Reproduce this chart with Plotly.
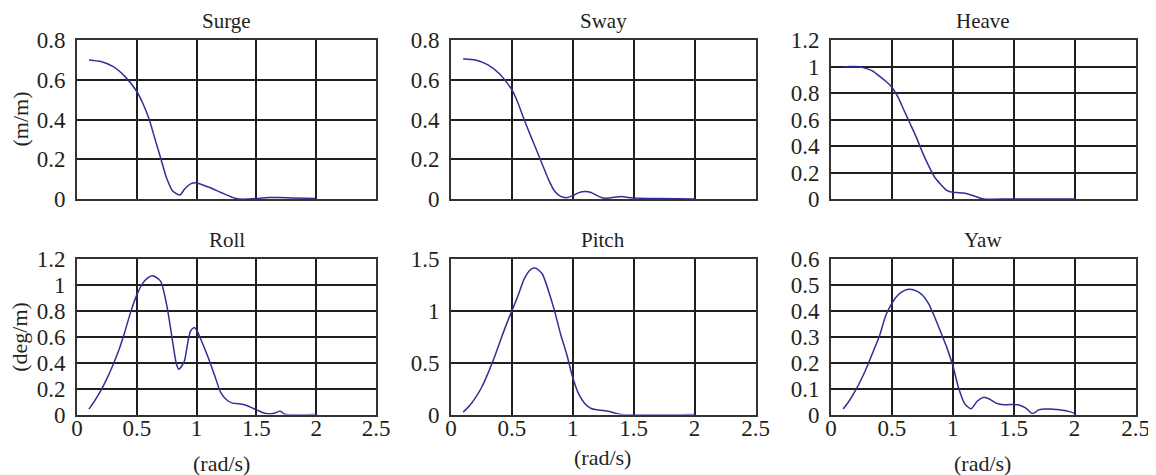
import plotly.graph_objects as go

# ---------------- data ----------------
surge_w = [0.1, 0.2, 0.3, 0.4, 0.5, 0.55, 0.6, 0.65, 0.7, 0.75, 0.8, 0.86, 0.9, 0.95, 1.0,
           1.1, 1.2, 1.3, 1.35, 1.5, 1.6, 1.7, 1.8, 2.0]
surge_a = [0.700, 0.692, 0.667, 0.617, 0.541, 0.482, 0.407, 0.306, 0.205, 0.104, 0.040, 0.020,
           0.050, 0.076, 0.081, 0.060, 0.034, 0.008, 0.0, 0.002, 0.008, 0.007, 0.005, 0.003]

sway_w = [0.1, 0.2, 0.3, 0.4, 0.5, 0.55, 0.6, 0.65, 0.7, 0.75, 0.8, 0.85, 0.9, 0.95, 1.0,
          1.05, 1.1, 1.15, 1.2, 1.25, 1.3, 1.4, 1.45, 1.5, 1.7, 2.0]
sway_a = [0.706, 0.699, 0.676, 0.629, 0.550, 0.483, 0.400, 0.324, 0.249, 0.174, 0.099, 0.040,
          0.013, 0.007, 0.017, 0.032, 0.038, 0.033, 0.017, 0.005, 0.005, 0.013, 0.008, 0.005,
          0.002, 0.0]

heave_w = [0.1, 0.15, 0.2, 0.25, 0.3, 0.35, 0.4, 0.45, 0.5, 0.55, 0.6, 0.65, 0.7, 0.75, 0.8,
           0.85, 0.9, 0.95, 1.0, 1.05, 1.1, 1.15, 1.2, 1.25, 1.5, 2.0]
heave_a = [0.995, 1.0, 1.0, 0.997, 0.982, 0.962, 0.925, 0.889, 0.844, 0.769, 0.668, 0.568,
           0.467, 0.354, 0.254, 0.166, 0.111, 0.065, 0.050, 0.048, 0.043, 0.030, 0.015, 0.0,
           0.0, 0.0]

roll_w = [0.1, 0.15, 0.2, 0.25, 0.3, 0.35, 0.4, 0.45, 0.5, 0.55, 0.6, 0.63, 0.65, 0.7, 0.75,
          0.8, 0.83, 0.85, 0.88, 0.9, 0.93, 0.95, 0.98, 1.0, 1.05, 1.1, 1.15, 1.2, 1.25, 1.3,
          1.35, 1.4, 1.45, 1.5, 1.55, 1.6, 1.65, 1.7, 1.73, 1.75, 2.0]
roll_a = [0.041, 0.109, 0.186, 0.277, 0.380, 0.497, 0.639, 0.794, 0.923, 1.014, 1.060, 1.071,
          1.065, 1.027, 0.846, 0.561, 0.393, 0.349, 0.380, 0.419, 0.574, 0.646, 0.672, 0.652,
          0.548, 0.432, 0.303, 0.173, 0.114, 0.088, 0.083, 0.075, 0.057, 0.036, 0.016, 0.005,
          0.010, 0.026, 0.005, 0.0, 0.0]

pitch_w = [0.1, 0.15, 0.2, 0.25, 0.3, 0.35, 0.4, 0.45, 0.5, 0.55, 0.6, 0.65, 0.68, 0.7, 0.75,
           0.8, 0.85, 0.9, 0.95, 1.0, 1.05, 1.1, 1.15, 1.2, 1.25, 1.3, 1.35, 1.4, 2.0]
pitch_a = [0.023, 0.081, 0.161, 0.258, 0.387, 0.532, 0.694, 0.855, 1.0, 1.145, 1.306, 1.394,
           1.413, 1.410, 1.355, 1.194, 1.0, 0.774, 0.581, 0.355, 0.194, 0.103, 0.058, 0.045,
           0.039, 0.029, 0.013, 0.0, 0.0]

yaw_w = [0.1, 0.15, 0.2, 0.25, 0.3, 0.35, 0.4, 0.45, 0.5, 0.55, 0.6, 0.65, 0.7, 0.75, 0.8,
         0.85, 0.9, 0.95, 1.0, 1.05, 1.1, 1.15, 1.2, 1.25, 1.3, 1.35, 1.4, 1.45, 1.5, 1.55,
         1.6, 1.65, 1.68, 1.7, 1.75, 1.8, 1.85, 1.9, 1.95, 2.0]
yaw_a = [0.021, 0.053, 0.092, 0.137, 0.189, 0.247, 0.306, 0.383, 0.429, 0.461, 0.478, 0.483,
         0.477, 0.461, 0.429, 0.377, 0.319, 0.260, 0.189, 0.098, 0.040, 0.022, 0.051, 0.066,
         0.060, 0.045, 0.039, 0.038, 0.039, 0.036, 0.025, 0.004, 0.009, 0.017, 0.021, 0.021,
         0.019, 0.016, 0.012, 0.005]

titles = ["Surge", "Sway", "Heave", "Roll", "Pitch", "Yaw"]
series_w = [surge_w, sway_w, heave_w, roll_w, pitch_w, yaw_w]
series_a = [surge_a, sway_a, heave_a, roll_a, pitch_a, yaw_a]
y_max = [0.8, 0.8, 1.2, 1.2, 1.5, 0.6]
y_step = [0.2, 0.2, 0.2, 0.2, 0.5, 0.1]
x_ticks = [0, 0.5, 1, 1.5, 2, 2.5]
y_units = ["(m/m)", "(deg/m)"]
x_unit = "(rad/s)"

# ---------------- layout ----------------
OFF = 8  # page body margin in the browser
W, H = 1156 - OFF, 475 - OFF
col_px = [(77, 376), (451, 755.5), (831, 1135.5)]   # window pixels
row_px = [(40, 199), (259, 414.5)]

FONT = "Liberation Serif"
LINE = "#2E3192"
GRID = "#1f1f1f"
TXT = "#231F20"


def px_x(v):
    return (v - OFF) / W


def px_y(v):
    return 1 - (v - OFF) / H


fig = go.Figure()
layout = dict(
    width=W, height=H, margin=dict(l=0, r=0, t=0, b=0),
    paper_bgcolor="white", plot_bgcolor="white", showlegend=False,
    font=dict(family=FONT, size=20, color=TXT),
)
annotations = []

for i in range(6):
    r, c = divmod(i, 3)
    xa = "xaxis" if i == 0 else f"xaxis{i+1}"
    ya = "yaxis" if i == 0 else f"yaxis{i+1}"
    xref = "x" if i == 0 else f"x{i+1}"
    yref = "y" if i == 0 else f"y{i+1}"
    x0, x1 = col_px[c]
    y0, y1 = row_px[r]
    fig.add_trace(go.Scatter(
        x=series_w[i], y=series_a[i], mode="lines",
        line=dict(color=LINE, width=1.5, shape="spline", smoothing=0.6),
        xaxis=xref, yaxis=yref, hoverinfo="skip"))
    layout[xa] = dict(
        domain=[px_x(x0), px_x(x1)], anchor=yref, range=[0, 2.5],
        tickvals=x_ticks, showticklabels=(r == 1),
        showgrid=True, gridcolor=GRID, gridwidth=1.6, zeroline=False,
        showline=True, linecolor="#333333", linewidth=1.8, mirror=True,
        ticks="", ticklabelstandoff=-8, automargin=False,
        tickfont=dict(family=FONT, size=23, color=TXT))
    ym = y_max[i]
    st = y_step[i]
    n = int(round(ym / st))
    yt = [round(k * st, 3) for k in range(n + 1)]
    layout[ya] = dict(
        domain=[px_y(y1), px_y(y0)], anchor=xref, range=[0, ym],
        tickvals=yt, ticktext=[f"{v:g}" for v in yt],
        showgrid=True, gridcolor=GRID, gridwidth=1.6, zeroline=False,
        showline=True, linecolor="#333333", linewidth=1.8, mirror=True,
        ticks="", ticklabelstandoff=5, automargin=False,
        tickfont=dict(family=FONT, size=23, color=TXT))
    annotations.append(dict(
        text=titles[i], x=px_x((x0 + x1) / 2), y=px_y(y0 - 5),
        xref="paper", yref="paper", xanchor="center", yanchor="bottom",
        showarrow=False, font=dict(family=FONT, size=21, color=TXT)))

for r in range(2):
    y0, y1 = row_px[r]
    annotations.append(dict(
        text=y_units[r], x=px_x(20), y=px_y((y0 + y1) / 2),
        xref="paper", yref="paper", xanchor="center", yanchor="middle",
        textangle=-90, showarrow=False,
        font=dict(family=FONT, size=22, color=TXT)))

x_label_y = [463, 457, 463]
x_label_x = [221, 602, 982]
for c in range(3):
    annotations.append(dict(
        text=x_unit, x=px_x(x_label_x[c]), y=px_y(x_label_y[c]),
        xref="paper", yref="paper", xanchor="center", yanchor="middle",
        showarrow=False, font=dict(family=FONT, size=22, color=TXT)))

layout["annotations"] = annotations
fig.update_layout(**layout)
fig.write_html("out.html")
